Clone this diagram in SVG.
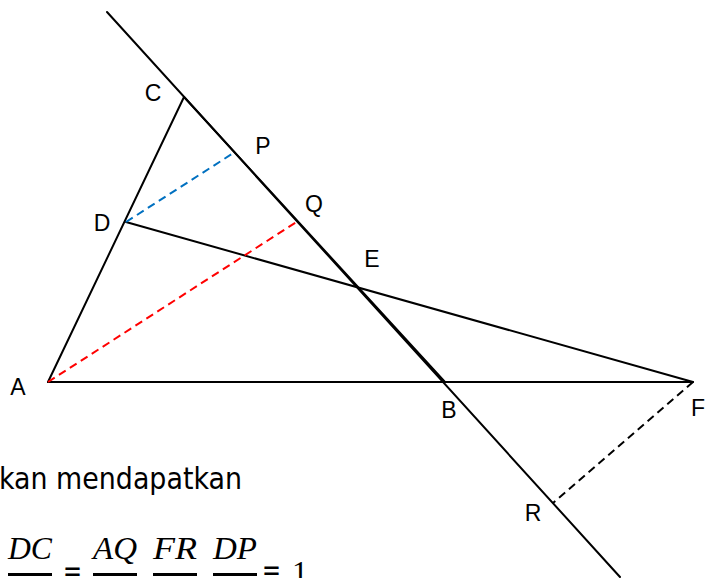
<svg xmlns="http://www.w3.org/2000/svg" width="705" height="578" viewBox="0 0 705 578">
<style>
.ln{stroke:#000;stroke-width:2;fill:none;stroke-linecap:round}
.dash{stroke-width:2;fill:none;stroke-dasharray:8 5}
.lbl{font-family:"Liberation Sans",Arial,sans-serif;font-size:23px;fill:#000;text-anchor:middle}
.txt{font-family:"DejaVu Sans",Verdana,sans-serif;font-size:30px;fill:#000}
.math{font-family:"Liberation Serif","Times New Roman",serif;font-style:italic;font-size:32px;fill:#000}
.num{font-family:"Liberation Serif","Times New Roman",serif;font-size:32px;fill:#000}
.eq{font-family:"DejaVu Sans",Verdana,sans-serif;font-size:30px;fill:#000}
.bar{stroke:#000;stroke-width:3}
</style>
<rect width="705" height="578" fill="#fff"/>
<g id="connectors">
<line class="ln" x1="107" y1="12" x2="620" y2="577"/>
<line class="ln" x1="184" y1="97" x2="445" y2="382" stroke-width="2.4"/>
<line class="ln" x1="48" y1="382" x2="184" y2="97"/>
<line class="ln" x1="48" y1="382" x2="693" y2="382"/>
<line class="ln" x1="126" y1="222" x2="693" y2="382"/>
<line class="dash" stroke="#0070C0" x1="126" y1="222" x2="235" y2="152"/>
<line class="dash" stroke="#FF0000" x1="48" y1="382" x2="298" y2="221"/>
<line class="dash" stroke="#000" x1="693" y1="382" x2="553" y2="503"/>
</g>
<g id="A"><text class="lbl" x="18" y="395">A</text></g>
<g id="B"><text class="lbl" x="449" y="418">B</text></g>
<g id="C"><text class="lbl" x="153" y="101">C</text></g>
<g id="D"><text class="lbl" x="102" y="231">D</text></g>
<g id="E"><text class="lbl" x="372" y="267">E</text></g>
<g id="F"><text class="lbl" x="698" y="416">F</text></g>
<g id="P"><text class="lbl" x="263" y="154">P</text></g>
<g id="Q"><text class="lbl" x="314" y="212">Q</text></g>
<g id="R"><text class="lbl" x="533" y="521">R</text></g>
<g id="text">
<text class="txt" x="-1" y="489" textLength="243" lengthAdjust="spacingAndGlyphs">kan mendapatkan</text>
<text class="math" x="30" y="559" text-anchor="middle" textLength="44" lengthAdjust="spacingAndGlyphs">DC</text>
<line class="bar" x1="8" y1="574.5" x2="52" y2="574.5"/>
<text class="eq" x="63" y="581" textLength="19" lengthAdjust="spacingAndGlyphs">=</text>
<text class="math" x="115" y="559" text-anchor="middle" textLength="44" lengthAdjust="spacingAndGlyphs">AQ</text>
<line class="bar" x1="93" y1="574.5" x2="137" y2="574.5"/>
<text class="math" x="175" y="559" text-anchor="middle" textLength="44" lengthAdjust="spacingAndGlyphs">FR</text>
<line class="bar" x1="153" y1="574.5" x2="197" y2="574.5"/>
<text class="math" x="235" y="559" text-anchor="middle" textLength="44" lengthAdjust="spacingAndGlyphs">DP</text>
<line class="bar" x1="213" y1="574.5" x2="257" y2="574.5"/>
<text class="eq" x="262" y="580" textLength="19" lengthAdjust="spacingAndGlyphs">=</text>
<text class="num" x="300" y="583" text-anchor="middle">1</text>
</g>
</svg>
